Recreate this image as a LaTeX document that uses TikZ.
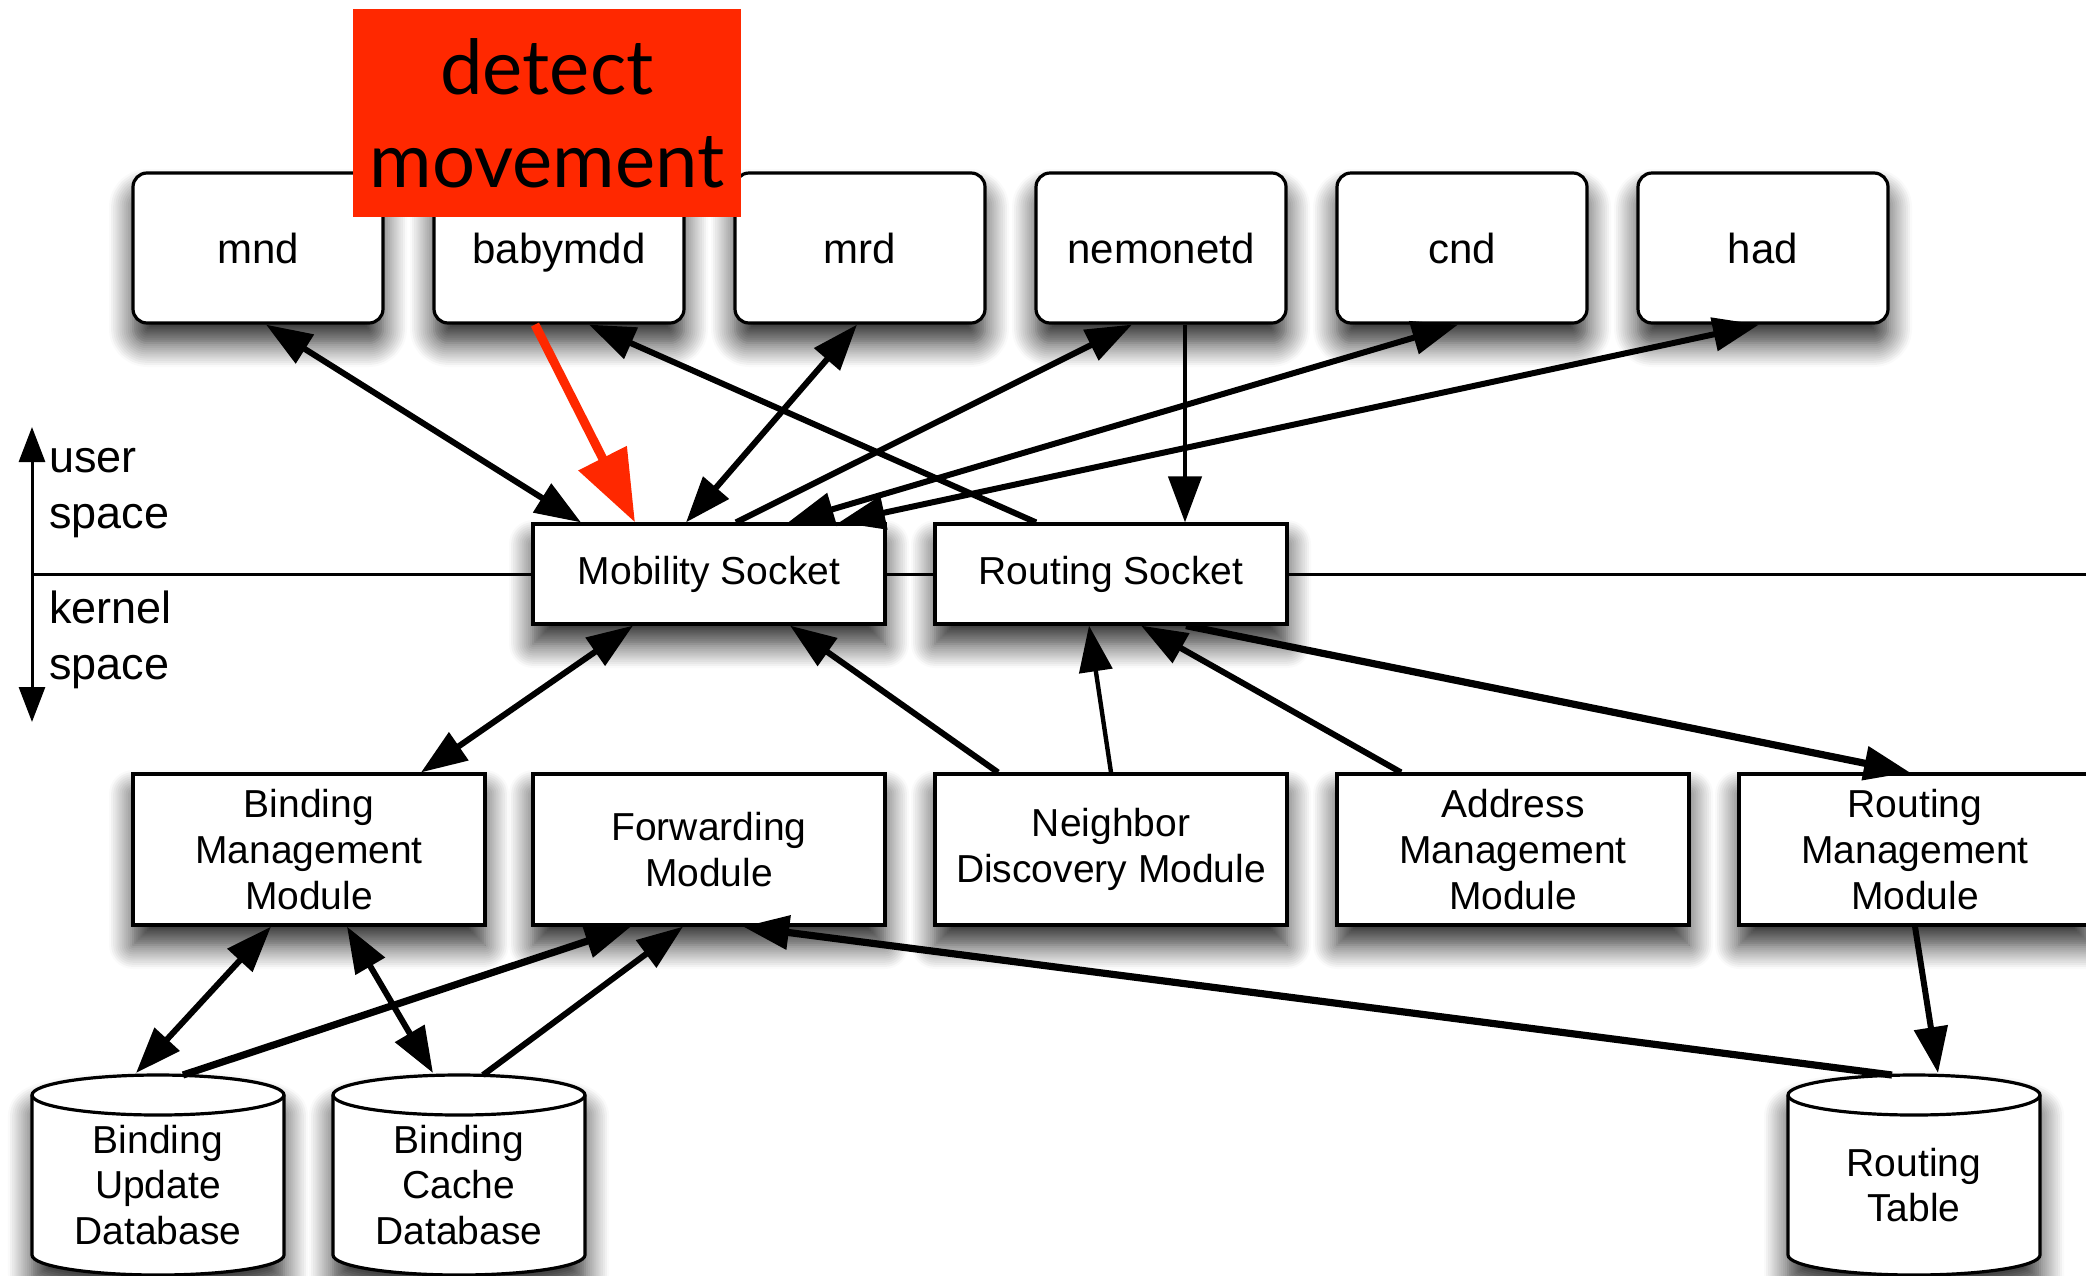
\documentclass[tikz,border=0pt]{standalone}
\usepackage{fontspec}
\setmainfont{Liberation Sans}
\newfontfamily\calloutfont{Lato}
\usetikzlibrary{arrows.meta,shadows.blur}
\pgfdeclarelayer{background}
\pgfsetlayers{background,main}
\definecolor{alertred}{RGB}{255,40,0}

\begin{document}
\begin{tikzpicture}[x=0.5pt,y=-0.5pt,
  boxshadow/.style={blur shadow={shadow xshift=0pt,shadow yshift=-10pt,shadow blur radius=12pt,shadow blur steps=12,shadow opacity=85}},
  daemon/.style={draw,line width=1.6pt,fill=white,rounded corners=7pt,
    minimum width=125pt,minimum height=75pt,inner sep=0pt,
    font=\fontsize{21}{25}\selectfont,text height=15.3pt,text depth=0pt,boxshadow},
  sockbox/.style={draw,line width=1.6pt,fill=white,minimum width=176pt,minimum height=50pt,
    inner sep=0pt,font=\fontsize{19.5}{23}\selectfont,boxshadow},
  modbox/.style={sockbox,minimum height=75.5pt,align=center},
  dbtext/.style={align=center,inner sep=0pt,outer sep=0pt,minimum width=126pt,minimum height=70pt,
    font=\fontsize{19.5}{22.75}\selectfont},
  dbshape/.style={draw,line width=1.6pt,fill=white,boxshadow},
  spacelbl/.style={anchor=north west,align=left,inner sep=0pt,font=\fontsize{22.5}{28}\selectfont},
  tip/.tip={Triangle[length=23pt,width=16.5pt]},
  solidink/.style={color=black,opacity=1,fill opacity=1,draw opacity=1},
  link/.style={solidink,line width=3pt,-tip},
  both/.style={solidink,line width=3pt,tip-tip},
  thinner/.style={line width=2.2pt},
  thicker/.style={line width=3.6pt},
]
\useasboundingbox (0,0) rectangle (2086,1275);
\clip (0,0) rectangle (2086,1275);

% user space / kernel space divider
\coordinate (divL) at (32,574);
\coordinate (divR) at (2086,574);
\draw[solidink,line width=1.5pt] (divL) -- (divR);
\coordinate (uptip) at (32,427);
\coordinate (downtip) at (32,722);
\draw[solidink,line width=1.5pt,{Triangle[length=17.5pt,width=13pt]}-{Triangle[length=17.5pt,width=13pt]}] (uptip) -- (downtip);
\node[spacelbl] (userlbl) at (49,432.8) {\strut user\\\strut space};
\node[spacelbl] (kernlbl) at (49,583.8) {\strut kernel\\\strut space};

% user-space daemons
\node[daemon] (mnd)      at (258,248)  {mnd};
\node[daemon] (babymdd)  at (559,248)  {babymdd};
\node[daemon] (mrd)      at (860,248)  {mrd};
\node[daemon] (nemonetd) at (1161,248) {nemonetd};
\node[daemon] (cnd)      at (1462,248) {cnd};
\node[daemon] (had)      at (1763,248) {had};

% sockets
\node[sockbox] (ms) at (709,574)  {Mobility Socket};
\node[sockbox] (rs) at (1111,574) {Routing Socket};

% kernel modules
\node[modbox] (bmm) at (309,849.5)  {Binding\\Management\\Module};
\node[modbox] (fwd) at (709,849.5)  {Forwarding\\Module};
\node[modbox] (ndm) at (1111,849.5) {Neighbor\\Discovery Module};
\node[modbox] (amm) at (1513,849.5) {Address\\Management\\Module};
\node[modbox] (rmm) at (1915,849.5) {Routing\\Management\\Module};

% databases
\node[dbtext] (bud)  at (158,1185)  {Binding\\Update\\Database};
\node[dbtext] (bcd)  at (459,1185)  {Binding\\Cache\\Database};
\node[dbtext] (rtab) at (1914,1185) {Routing\\Table};
\begin{pgfonlayer}{background}
  \foreach \db in {bud,bcd,rtab}{
    \path[dbshape] ([yshift=10pt]\db.north west) -- (\db.south west)
      arc[start angle=180,end angle=360,x radius=63pt,y radius=10pt]
      -- ([yshift=10pt]\db.north east)
      arc[start angle=0,end angle=180,x radius=63pt,y radius=10pt] -- cycle;
    \draw[solidink,line width=1.6pt] ([yshift=10pt]\db.north west)
      arc[start angle=180,end angle=360,x radius=63pt,y radius=10pt];
  }
\end{pgfonlayer}

% daemons <-> sockets
\draw[both] ([xshift=4pt]mnd.south) -- ([xshift=-64pt]ms.north);
\draw[link] ([xshift=-37.5pt]rs.north) -- ([xshift=15pt]babymdd.south);
\draw[both] ([xshift=-1.5pt]mrd.south) -- ([xshift=-11.5pt]ms.north);
\draw[link] ([xshift=13.5pt]ms.north) -- ([xshift=-14.5pt]nemonetd.south);
\draw[link,thinner] ([xshift=12pt]nemonetd.south) -- ([xshift=37pt]rs.north);
\draw[both] ([xshift=39.5pt]ms.north) -- ([xshift=-2pt]cnd.south);
\draw[both] ([xshift=65pt]ms.north) -- ([xshift=-2pt]had.south);

% sockets <-> modules
\draw[both] ([xshift=-38pt]ms.south) -- ([xshift=56pt]bmm.north);
\draw[link] ([xshift=-56.5pt]ndm.north) -- ([xshift=40.5pt]ms.south);
\draw[link,thinner] (ndm.north) -- ([xshift=-11pt]rs.south);
\draw[link] ([xshift=-56pt]amm.north) -- ([xshift=15pt]rs.south);
\draw[link,thicker] ([xshift=37.5pt]rs.south) -- ([xshift=-2.5pt]rmm.north);

% modules <-> databases
\draw[both] ([xshift=-19pt]bmm.south) -- ([xshift=-11pt,yshift=21pt]bud.north);
\draw[both] ([xshift=19pt]bmm.south) -- ([xshift=-13pt,yshift=21pt]bcd.north);
\draw[link,thicker] ([xshift=12.5pt,yshift=20pt]bud.north) -- ([xshift=-39pt]fwd.south);
\draw[link] ([xshift=12pt,yshift=20pt]bcd.north) -- ([xshift=-13pt]fwd.south);
\draw[link,thicker] ([xshift=-11pt,yshift=20pt]rtab.north) -- ([xshift=17pt]fwd.south);
\draw[link] (rmm.south) -- ([xshift=12pt,yshift=21pt]rtab.north);

% highlighted callout
\node[solidink,fill=alertred,minimum width=194pt,minimum height=104pt,inner sep=0pt,align=center,
  font=\calloutfont\fontsize{38}{46.5}\selectfont] (callout) at (547,113) {detect\\movement};
\draw[solidink,alertred,line width=4.5pt,-{Triangle[length=36pt,width=26pt]}]
  ([xshift=-12pt]babymdd.south) -- ([xshift=-37pt]ms.north);
\end{tikzpicture}
\end{document}
